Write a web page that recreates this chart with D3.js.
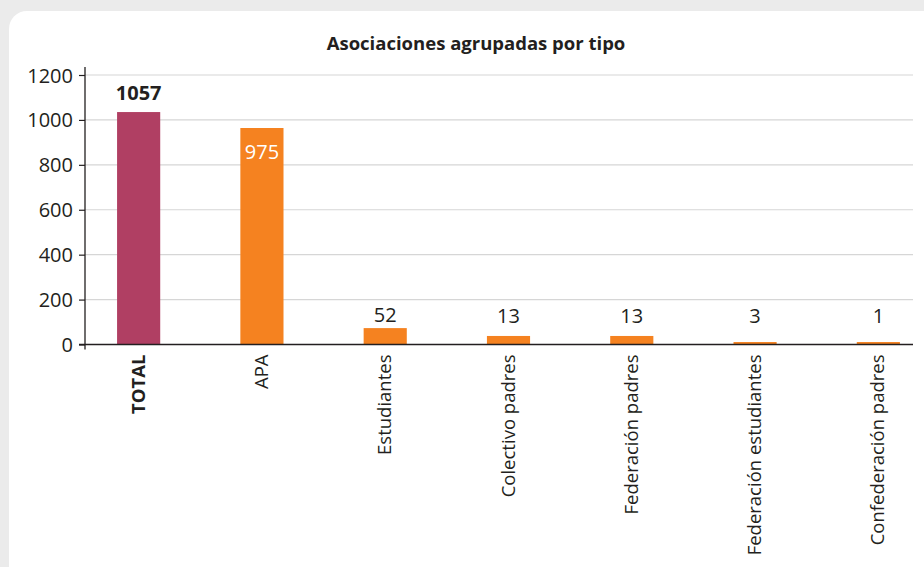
<!DOCTYPE html>
<html>
<head>
<meta charset="utf-8">
<script src="https://cdn.jsdelivr.net/npm/d3@7"></script>
<style>
  html, body { margin: 0; padding: 0; background: #ebebeb; }
  svg { display: block; font-family: "Open Sans", sans-serif; }
</style>
</head>
<body>
<div id="chart"></div>
<script>
// Asociaciones agrupadas por tipo
const categories = ["TOTAL", "APA", "Estudiantes", "Colectivo padres", "Federación padres", "Federación estudiantes", "Confederación padres"];
// bar heights as drawn in the picture (the original is not to scale for the small ones)
const barValues = [1035, 964, 73, 38, 38, 11, 11];
// printed value labels
const valueLabels = [1057, 975, 52, 13, 13, 3, 1];
const yTicks = [0, 200, 400, 600, 800, 1000, 1200];

const W = 924, H = 567;

const svg = d3.select("#chart")
    .append("svg")
    .attr("width", W)
    .attr("height", H);

// white card
svg.append("rect")
    .attr("x", 9)
    .attr("y", 11)
    .attr("width", 940)
    .attr("height", 580)
    .attr("rx", 18)
    .attr("fill", "#ffffff");

const x0 = 85, x1 = 913, yTop = 75, yBase = 344.5;

const x = d3.scaleBand()
    .domain(categories)
    .range([77, 940])
    .paddingInner(0.65)
    .paddingOuter(0.325);

const y = d3.scaleLinear()
    .domain([0, 1200])
    .range([yBase, yTop]);

// gridlines
svg.append("g")
    .selectAll("line")
    .data(yTicks.filter(t => t > 0))
    .enter()
    .append("line")
    .attr("x1", x0)
    .attr("x2", x1)
    .attr("y1", d => y(d))
    .attr("y2", d => y(d))
    .attr("stroke", "#d6d6d6")
    .attr("stroke-width", 1.2);

// y axis
const yAxis = svg.append("g")
    .attr("transform", `translate(${x0},0)`)
    .call(d3.axisLeft(y).tickValues(yTicks).tickFormat(d3.format("d")).tickSize(6).tickPadding(6));
yAxis.select(".domain").remove();
yAxis.append("line")
    .attr("y1", 67)
    .attr("y2", yBase + 5)
    .attr("stroke", "#231f20")
    .attr("stroke-width", 1.3);
yAxis.selectAll(".tick line").attr("stroke", "#231f20").attr("stroke-width", 1.2);
yAxis.selectAll(".tick text")
    .attr("fill", "#231f20")
    .style("font-size", "20px")
    .style("font-family", "'Open Sans', sans-serif")
    .attr("dy", "0.35em");

// bars
svg.append("g")
    .selectAll("rect")
    .data(categories)
    .enter()
    .append("rect")
    .attr("x", d => x(d))
    .attr("y", (d, i) => y(barValues[i]))
    .attr("width", x.bandwidth())
    .attr("height", (d, i) => yBase - y(barValues[i]))
    .attr("fill", (d, i) => i === 0 ? "#b03f63" : "#f58220");

// x axis line
svg.append("line")
    .attr("x1", x0 - 6)
    .attr("x2", x1)
    .attr("y1", yBase)
    .attr("y2", yBase)
    .attr("stroke", "#231f20")
    .attr("stroke-width", 1.3);

// value labels
svg.append("g")
    .selectAll("text")
    .data(categories)
    .enter()
    .append("text")
    .attr("x", d => x(d) + x.bandwidth() / 2)
    .attr("y", (d, i) => {
        const top = y(barValues[i]);
        if (i === 0) return top - 12;
        if (i === 1) return top + 31;
        return Math.min(top - 6, yBase - 22);
    })
    .attr("text-anchor", "middle")
    .style("font-size", "20px")
    .style("font-weight", (d, i) => i === 0 ? "bold" : "normal")
    .attr("fill", (d, i) => i === 1 ? "#ffffff" : "#231f20")
    .text((d, i) => valueLabels[i]);

// category labels (rotated)
svg.append("g")
    .selectAll("text")
    .data(categories)
    .enter()
    .append("text")
    .attr("transform", d => `translate(${x(d) + x.bandwidth() / 2 + 6},${yBase + 10}) rotate(-90)`)
    .attr("text-anchor", "end")
    .style("font-size", "18.5px")
    .style("font-weight", (d, i) => i === 0 ? "bold" : "normal")
    .attr("fill", "#231f20")
    .text(d => d);

// title
svg.append("text")
    .attr("x", 476)
    .attr("y", 50)
    .attr("text-anchor", "middle")
    .style("font-size", "18.5px")
    .style("font-weight", "bold")
    .attr("fill", "#231f20")
    .text("Asociaciones agrupadas por tipo");
</script>
</body>
</html>
